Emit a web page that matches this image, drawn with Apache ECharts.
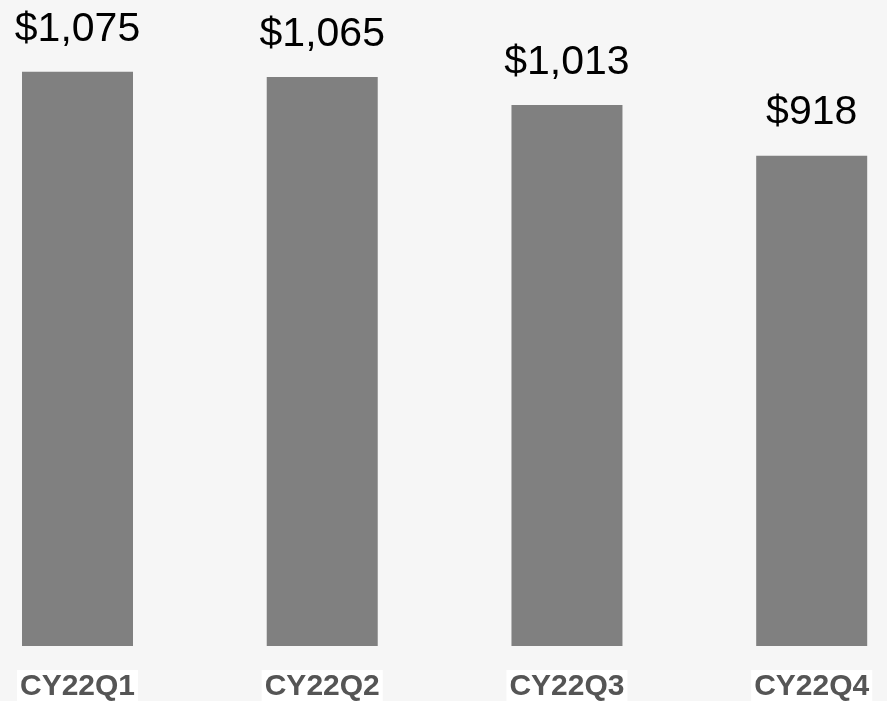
<!DOCTYPE html>
<html>
<head>
<meta charset="utf-8">
<script src="https://cdn.jsdelivr.net/npm/echarts@6/dist/echarts.min.js"></script>
<style>
html,body{margin:0;padding:0;background:#f6f6f6;}
#chart{width:887px;height:701px;}
</style>
</head>
<body>
<div id="chart"></div>
<script>
const categories = ['CY22Q1', 'CY22Q2', 'CY22Q3', 'CY22Q4'];
const values = [1075, 1065, 1013, 918];

const chart = echarts.init(document.getElementById('chart'));
chart.setOption({
  animation: false,
  backgroundColor: '#f6f6f6',
  grid: { left: 77.5, right: 75.3, top: 5, bottom: 55, containLabel: false, outerBoundsMode: 'none' },
  xAxis: {
    type: 'category',
    data: categories,
    boundaryGap: false,
    axisLine: { show: false },
    axisTick: { show: false },
    axisLabel: {
      margin: 24,
      fontFamily: 'Liberation Sans, Arial, sans-serif',
      fontWeight: 'bold',
      fontSize: 30,
      color: '#555555',
      backgroundColor: '#ffffff',
      padding: [2, 3, 6, 3]
    }
  },
  yAxis: {
    type: 'value',
    min: 0,
    max: 1200,
    show: false,
    splitLine: { show: false }
  },
  series: [{
    type: 'bar',
    data: values,
    barWidth: 111,
    itemStyle: { color: '#808080' },
    label: {
      show: true,
      position: 'top',
      distance: 22,
      fontFamily: 'Liberation Sans, Arial, sans-serif',
      fontSize: 41,
      color: '#000000',
      formatter: p => '$' + p.value.toLocaleString('en-US')
    }
  }]
});
</script>
</body>
</html>
